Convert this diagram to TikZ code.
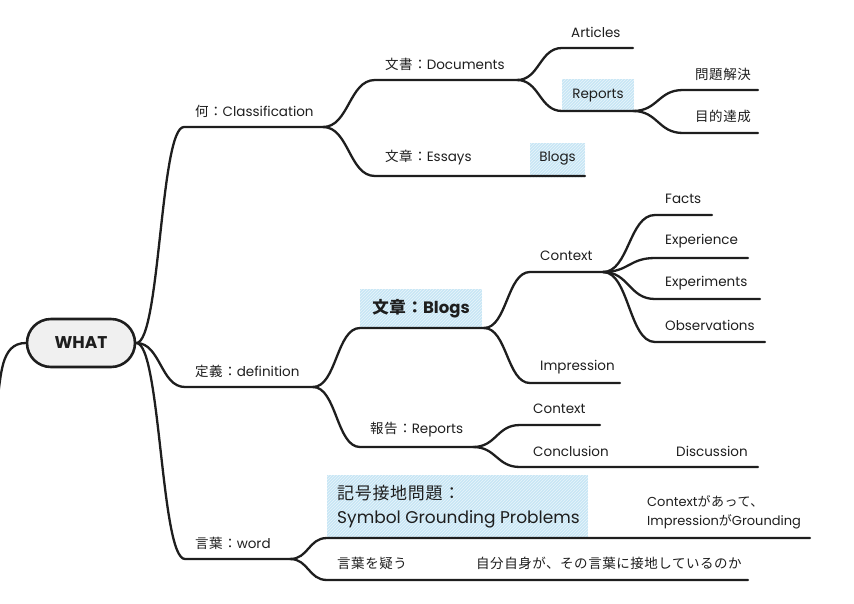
\documentclass[tikz,border=0pt]{standalone}
\usepackage{fontspec}
\setmainfont{Poppins}
\newfontfamily\jp[LetterSpace=4]{Noto Sans CJK JP}
\usetikzlibrary{calc,patterns}
\definecolor{ink}{HTML}{1E1E1E}
\definecolor{hlblue}{RGB}{200,230,245}
\newcommand\lbfont{\fontsize{13.5}{16}\selectfont}
\tikzset{
  branch/.style={draw=ink, line width=2.3pt, line cap=round},
  fork/.style={to path={let \p1=(\tikztostart), \p2=(\tikztotarget),
      \p3=($(\p1)!0.5!(\p2)$) in .. controls (\x3,\y1) and (\x3,\y2) .. (\tikztotarget)}},
  lbl/.style={anchor=west, inner sep=0pt, text=ink, font=\lbfont},
  hlbox/.style={preaction={fill=hlblue}, pattern=north east lines, pattern color=white!60!hlblue,
      inner sep=0pt, text=ink},
  rootbox/.style={draw=ink, line width=2.6pt, fill=gray!12, rounded corners=24pt,
      minimum width=108pt, minimum height=48pt, text=ink, font=\bfseries\fontsize{17}{19}\selectfont}
}
\begin{document}
\begin{tikzpicture}[x=1pt, y=-1pt]
  \useasboundingbox (0,0) rectangle (854,603);
  % highlight boxes
  \node[hlbox, minimum width=55pt, minimum height=34pt] (blg-b) at (557.5,160) {};
  \node[hlbox, minimum width=72pt, minimum height=32pt] (rep-b) at (598,95) {};
  \node[hlbox, minimum width=122pt, minimum height=39pt] (blog-b) at (421,308.5) {};
  \node[hlbox, minimum width=261pt, minimum height=63pt] (sym-b) at (457.5,506.5) {};
  % root
  \node[rootbox] (root) at (81,343) {WHAT};
  % line start / end points
  \coordinate (cls) at (184,127);  \coordinate (cls-e) at (323,127);
  \coordinate (dfn) at (185,387);  \coordinate (dfn-e) at (313,387);
  \coordinate (wrd) at (185,559);  \coordinate (wrd-e) at (290,559);
  \coordinate (doc) at (375,80);   \coordinate (doc-e) at (517,80);
  \coordinate (ess) at (375,176);  \coordinate (ess-e) at (585,176);
  \coordinate (art) at (562,48);   \coordinate (art-e) at (633,48);
  \coordinate (rep) at (562,111);  \coordinate (rep-e) at (633,111);
  \coordinate (mon) at (683,90);   \coordinate (mon-e) at (758,90);
  \coordinate (mok) at (683,133);  \coordinate (mok-e) at (758,133);
  \coordinate (blog) at (360,328); \coordinate (blog-e) at (484,328);
  \coordinate (hok) at (360,447);  \coordinate (hok-e) at (473,447);
  \coordinate (ctx) at (530,272);  \coordinate (ctx-e) at (603,272);
  \coordinate (imp) at (530,383);  \coordinate (imp-e) at (620,383);
  \coordinate (fac) at (655,215);  \coordinate (fac-e) at (712,215);
  \coordinate (exe) at (655,258);  \coordinate (exe-e) at (748,258);
  \coordinate (exm) at (655,299);  \coordinate (exm-e) at (760,299);
  \coordinate (obs) at (655,342);  \coordinate (obs-e) at (765,342);
  \coordinate (rctx) at (520,425); \coordinate (rctx-e) at (600,425);
  \coordinate (con) at (520,467);  \coordinate (con-e) at (758,467);
  \coordinate (sym) at (327,538);  \coordinate (sym-e) at (810,538);
  \coordinate (utg) at (327,580);  \coordinate (utg-e) at (748,580);
  \coordinate (off) at (-3,402);
  % branches
  \draw[branch] (root.west) to[out=180, in=80] (off);
  \draw[branch] (root.east) to[fork] (cls) -- (cls-e);
  \draw[branch] (root.east) to[fork] (dfn) -- (dfn-e);
  \draw[branch] (root.east) to[fork] (wrd) -- (wrd-e);
  \draw[branch] (cls-e) to[fork] (doc) -- (doc-e);
  \draw[branch] (cls-e) to[fork] (ess) -- (ess-e);
  \draw[branch] (doc-e) to[fork] (art) -- (art-e);
  \draw[branch] (doc-e) to[fork] (rep) -- (rep-e);
  \draw[branch] (rep-e) to[fork] (mon) -- (mon-e);
  \draw[branch] (rep-e) to[fork] (mok) -- (mok-e);
  \draw[branch] (dfn-e) to[fork] (blog) -- (blog-e);
  \draw[branch] (dfn-e) to[fork] (hok) -- (hok-e);
  \draw[branch] (blog-e) to[fork] (ctx) -- (ctx-e);
  \draw[branch] (blog-e) to[fork] (imp) -- (imp-e);
  \foreach \k in {fac,exe,exm,obs}
    \draw[branch] (ctx-e) to[fork] (\k) -- (\k-e);
  \draw[branch] (hok-e) to[fork] (rctx) -- (rctx-e);
  \draw[branch] (hok-e) to[fork] (con) -- (con-e);
  \draw[branch] (wrd-e) to[fork] (sym) -- (sym-e);
  \draw[branch] (wrd-e) to[fork] (utg) -- (utg-e);
  % labels
  \node[lbl] (cls-t) at (195,111) {{\jp 何：}Classification};
  \node[lbl] (dfn-t) at (195,371) {{\jp 定義：}definition};
  \node[lbl] (wrd-t) at (195,543) {{\jp 言葉：}word};
  \node[lbl] (doc-t) at (385,64) {{\jp 文書：}Documents};
  \node[lbl] (ess-t) at (385,158) {{\jp 文章：}Essays};
  \node[lbl, anchor=center] (blg-t) at (557.5,158) {Blogs};
  \node[lbl] (art-t) at (571,32) {Articles};
  \node[lbl, anchor=center] (rep-t) at (598,96) {Reports};
  \node[lbl] (mon-t) at (695,74) {\jp 問題解決};
  \node[lbl] (mok-t) at (695,116) {\jp 目的達成};
  \node[lbl, anchor=center, font=\bfseries\fontsize{16.5}{18}\selectfont] (blog-t) at (421,309)
    {{\jp\bfseries 文章：}Blogs};
  \node[lbl] (hok-t) at (370,430) {{\jp 報告：}Reports};
  \node[lbl] (ctx-t) at (540,256) {Context};
  \node[lbl] (imp-t) at (540,367) {Impression};
  \node[lbl] (fac-t) at (665,199) {Facts};
  \node[lbl] (exe-t) at (665,241) {Experience};
  \node[lbl] (exm-t) at (665,283) {Experiments};
  \node[lbl] (obs-t) at (665,325) {Observations};
  \node[lbl] (rctx-t) at (533,409) {Context};
  \node[lbl] (con-t) at (533,451) {Conclusion};
  \node[lbl] (dis-t) at (676,451) {Discussion};
  \node[lbl, align=left, font=\fontsize{17}{24}\selectfont] (sym-t) at (337,507)
    {{\jp 記号接地問題：}\\Symbol Grounding Problems};
  \node[lbl, align=left, font=\fontsize{13}{19}\selectfont] (grd-t) at (647,512.5)
    {Context{\jp があって、}\\Impression{\jp が}Grounding};
  \node[lbl] (utg-t) at (337,563) {\jp 言葉を疑う};
  \node[lbl] (jib-t) at (476,563) {\jp 自分自身が、その言葉に接地しているのか};
\end{tikzpicture}
\end{document}
